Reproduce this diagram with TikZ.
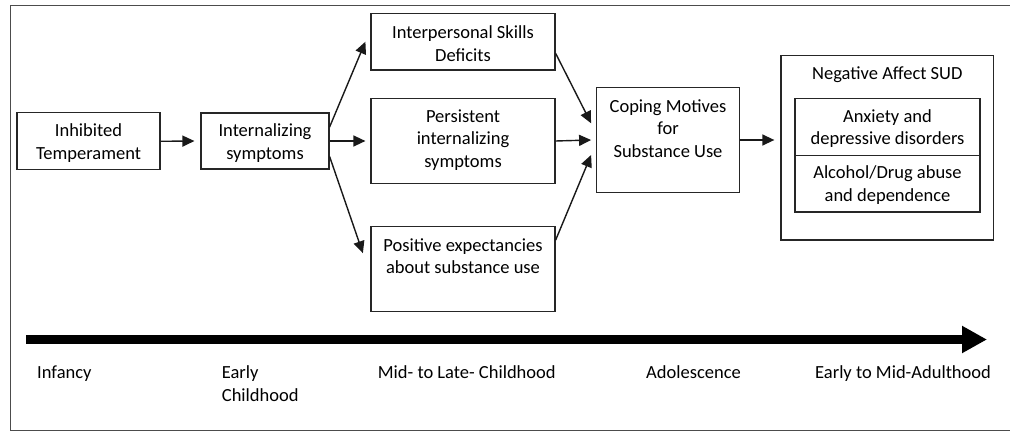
\documentclass[tikz,border=0pt]{standalone}
\usepackage{fontspec}
\setmainfont{Carlito}
\usetikzlibrary{arrows.meta}
\begin{document}
\begin{tikzpicture}[x=1pt,y=-1pt,
  every node/.style={font=\fontsize{18.5}{22.5}\selectfont},
  box/.style={draw=black!85, line width=1.2pt, inner sep=0pt},
  txt/.style={align=center, inner sep=0pt},
  tl/.style={align=left, inner sep=0pt, anchor=north west},
  con/.style={line width=1.4pt, draw=black!90, -{Triangle[length=12pt,width=11pt]}}]
\useasboundingbox (0,0) rectangle (1010,433);
\clip (0,0) rectangle (1010,433);
\draw[draw=black!70, line width=1.6pt] (10.5,5.5) rectangle (1015,430.5);
% boxes
\node[box, minimum width=143pt, minimum height=57pt] (inh) at (88.5,141.3) {};
\node[txt] (inht) at (88.5,143) {Inhibited\\Temperament};
\node[box, minimum width=128pt, minimum height=56pt] (intz) at (265,141) {};
\node[txt] (intzt) at (265,143) {Internalizing\\symptoms};
\node[box, minimum width=184pt, minimum height=56.7pt] (ips) at (463,41.7) {};
\node[txt] (ipst) at (463,43.4) {Interpersonal Skills\\Deficits};
\node[box, minimum width=184pt, minimum height=84.6pt] (pers) at (463,141) {};
\node[txt] (perst) at (463,139.7) {Persistent\\internalizing\\symptoms};
\node[box, minimum width=184pt, minimum height=85pt] (posx) at (463,269.2) {};
\node[txt] (posxt) at (463,256.3) {Positive expectancies\\about substance use};
\node[box, minimum width=142.6pt, minimum height=104.6pt] (cop) at (668,140) {};
\node[txt] (copt) at (668,128.5) {Coping Motives\\for\\Substance Use};
\node[box, minimum width=212.7pt, minimum height=184.3pt] (neg) at (887.3,147.8) {};
\node[txt] (negt) at (887.3,74.8) {Negative Affect SUD};
\node[box, minimum width=185pt, minimum height=57pt] (anx) at (887.5,126.8) {};
\node[txt] (anxt) at (887.5,128.7) {Anxiety and\\depressive disorders};
\node[box, minimum width=185pt, minimum height=56.7pt] (alc) at (887.5,183.7) {};
\node[txt] (alct) at (887.5,185) {Alcohol/Drug abuse\\and dependence};
% connectors
\draw[con] (inh.east) -- ([xshift=-6pt]intz.west);
\draw[con] ([yshift=14pt]intz.east) -- ([xshift=-5pt]ips.west);
\draw[con] (intz.east) -- ([xshift=-5pt]pers.west);
\draw[con] ([yshift=-15.5pt]intz.east) -- ([xshift=-7.5pt,yshift=16pt]posx.west);
\draw[con] ([yshift=-11.6pt]ips.east) -- ([xshift=-5pt,yshift=16.7pt]cop.west);
\draw[con] (pers.east) -- ([xshift=-5pt]cop.west);
\draw[con] ([yshift=29pt]posx.east) -- ([xshift=-5pt,yshift=-15pt]cop.west);
\draw[con] (cop.east) -- ([xshift=-6pt]cop.east -| neg.west);
% timeline
\coordinate (ts) at (26,339.5);
\coordinate (te) at (987,339.5);
\draw[line width=9pt, -{Triangle[length=25pt,width=25.6pt]}] (ts) -- (te);
\node[tl] (l1) at (37,365.5) {Infancy};
\node[tl] (l2) at (221.7,365.5) {Early\\Childhood};
\node[tl] (l3) at (377.7,365.5) {Mid- to Late- Childhood};
\node[tl] (l4) at (646,365.5) {Adolescence};
\node[tl] (l5) at (815,365.5) {Early to Mid-Adulthood};
\end{tikzpicture}
\end{document}
